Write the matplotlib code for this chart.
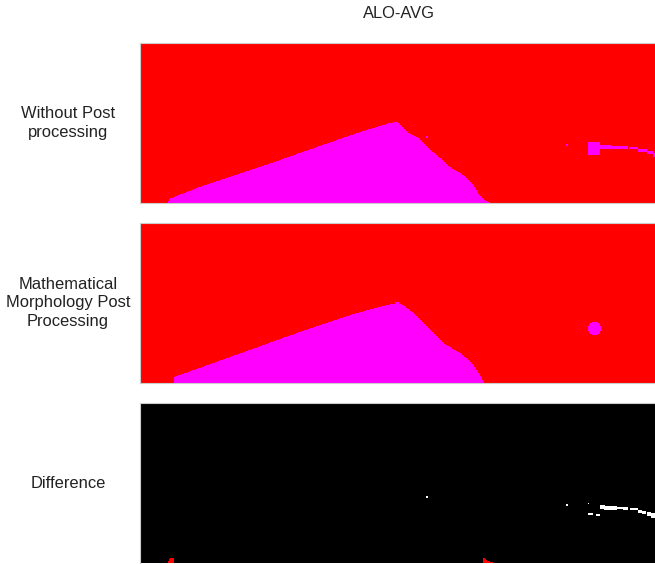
import numpy as np
import matplotlib
matplotlib.use("Agg")
import matplotlib.pyplot as plt
from matplotlib.path import Path

TITLE = "ALO-AVG"
ROW_LABELS = ["Without Post\nprocessing",
              "Mathematical\nMorphology Post\nProcessing",
              "Difference"]
IMG_W, IMG_H = 516, 160

# Panel 1 (without post processing): magenta region outline (pixel coords)
P1_MAG_X = [28, 29, 57, 90, 123, 157, 177, 217, 243, 250, 257, 260, 267, 277,
            287, 300, 310, 323, 332, 338, 345, 351]
P1_MAG_Y = [160, 156, 145, 134, 123, 111, 104, 90, 82, 80, 79, 81, 89, 94,
            104, 115, 124, 132, 140, 150, 158, 160]
# Panel 1 small blob (rect) and streak pieces: (x0, x1, y0, y1)
P1_RECTS = [(448, 459, 99, 111), (459, 470, 102, 105), (470, 487, 103, 105),
            (489, 497, 104, 105), (498, 506, 106, 108), (507, 512, 108, 110),
            (513, 516, 110, 113), (286, 287, 93, 94), (426, 427, 101, 102)]

# Panel 2 (mathematical morphology): magenta region outline
P2_MAG_X = [34, 34, 40, 90, 157, 217, 243, 257, 263, 277, 287, 303, 320, 332,
            340, 344]
P2_MAG_Y = [160, 154, 152, 134, 110, 90, 83, 80, 82, 93, 104, 120, 130, 140,
            152, 160]
P2_BLOB = (454.5, 105.5, 6.5)   # centre x, centre y, radius

# Panel 3 (difference): white pieces and red pieces
DIFF_WHITE_RECTS = [(286, 287, 93, 94), (426, 427, 101, 102), (448, 448, 100, 100),
                    (448, 452, 110, 111), (456, 459, 111, 112),
                    (460, 464, 102, 105), (464, 476, 103, 106), (477, 482, 104, 105),
                    (483, 487, 104, 106), (490, 497, 105, 106), (498, 501, 107, 109),
                    (502, 505, 108, 110), (507, 510, 109, 112), (511, 516, 110, 114)]
DIFF_RED_LEFT_X = [28, 29, 31, 34, 34]
DIFF_RED_LEFT_Y = [160, 157, 155, 155, 160]
DIFF_RED_RIGHT_X = [343, 345, 347, 353, 353, 343]
DIFF_RED_RIGHT_Y = [155, 155, 158, 159, 160, 160]

RED = np.array([1.0, 0.0, 0.0])
MAGENTA = np.array([1.0, 0.0, 1.0])
BLACK = np.array([0.0, 0.0, 0.0])
WHITE = np.array([1.0, 1.0, 1.0])

yy, xx = np.mgrid[0:IMG_H, 0:IMG_W]
PTS = np.column_stack([xx.ravel() + 0.5, yy.ravel() + 0.5])


def poly_mask(xs, ys):
    return Path(np.column_stack([xs, ys])).contains_points(PTS).reshape(IMG_H, IMG_W)


def rect_mask(rects):
    m = np.zeros((IMG_H, IMG_W), bool)
    for x0, x1, y0, y1 in rects:
        m[y0:y1 + 1, x0:x1 + 1] = True
    return m


def disk_mask(cx, cy, r):
    return (xx + 0.5 - cx) ** 2 + (yy + 0.5 - cy) ** 2 <= r ** 2


def compose(bg, layers):
    img = np.tile(bg, (IMG_H, IMG_W, 1))
    for m, c in layers:
        img[m] = c
    return img


img1 = compose(RED, [(poly_mask(P1_MAG_X, P1_MAG_Y), MAGENTA),
                     (rect_mask(P1_RECTS), MAGENTA)])
img2 = compose(RED, [(poly_mask(P2_MAG_X, P2_MAG_Y), MAGENTA),
                     (disk_mask(*P2_BLOB), MAGENTA)])
img3 = compose(BLACK, [(rect_mask(DIFF_WHITE_RECTS), WHITE),
                       (poly_mask(DIFF_RED_LEFT_X, DIFF_RED_LEFT_Y), RED),
                       (poly_mask(DIFF_RED_RIGHT_X, DIFF_RED_RIGHT_Y), RED)])

W, H = 655, 564
fig = plt.figure(figsize=(W / 100, H / 100), dpi=100)
FONT = ["Liberation Sans", "DejaVu Sans"]

tops = [43, 223, 403]
label_y = [122, 302, 482]
for i, (img, top, lab, ly) in enumerate(zip([img1, img2, img3], tops, ROW_LABELS, label_y)):
    ax = fig.add_axes([140 / W, 1 - (top + 160) / H, 518 / W, 160 / H])
    ax.imshow(img, extent=[0, IMG_W, IMG_H, 0], aspect="auto",
              interpolation="nearest")
    ax.set_xlim(0, IMG_W + 2)
    ax.set_ylim(IMG_H, 0)
    ax.set_xticks([])
    ax.set_yticks([])
    for s in ax.spines.values():
        s.set_color("#cccccc")
        s.set_linewidth(0.8)
    if i == 2:
        ax.spines["bottom"].set_visible(False)
    fig.text(68 / W, 1 - (ly + 1) / H, lab, ha="center", va="center",
             fontsize=11.9, family=FONT, color="#222222", linespacing=1.32)

fig.text(399 / W, 1 - 14 / H, TITLE, ha="center", va="center",
         fontsize=11.9, family=FONT, color="#222222")

fig.savefig("out.png", dpi=100)
